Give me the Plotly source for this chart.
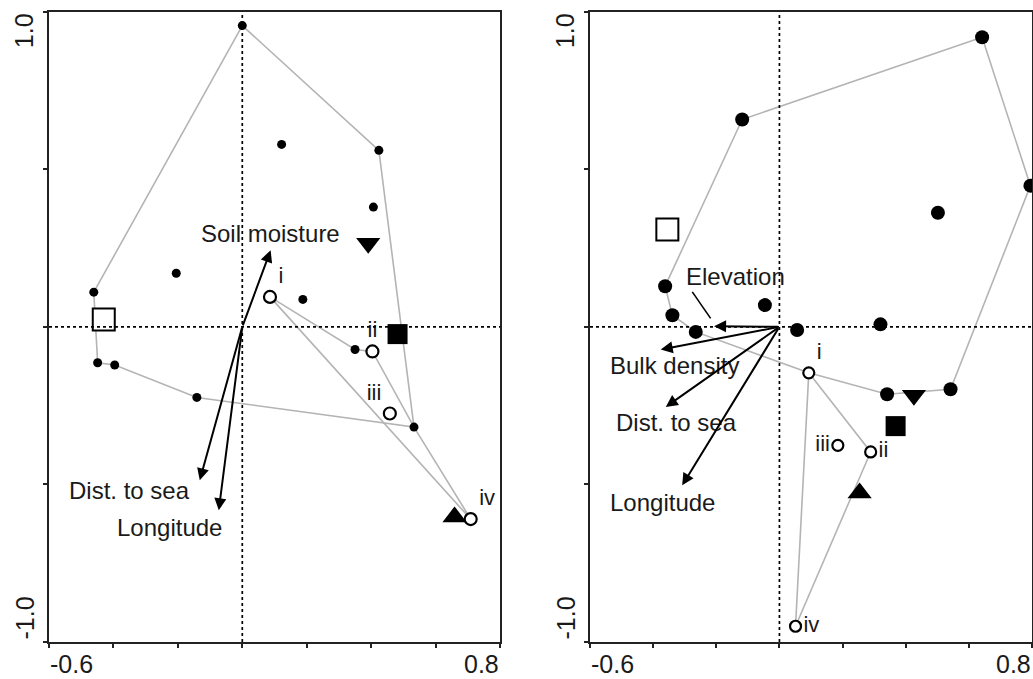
import plotly.graph_objects as go

FONT = "Arial, Liberation Sans, sans-serif"
TXT = "#1a1a1a"
GREY = "#b4b4b4"

# ---------------- Left panel data ----------------
L_site_x = [0.0, 0.122, 0.424, 0.407, -0.205, -0.461, 0.188, -0.449, -0.396, -0.141, 0.350, 0.533]
L_site_y = [0.956, 0.579, 0.560, 0.380, 0.170, 0.110, 0.087, -0.114, -0.121, -0.224, -0.072, -0.318]
L_hull_x = [0.0, 0.424, 0.533, -0.141, -0.396, -0.449, -0.461, 0.0]
L_hull_y = [0.956, 0.560, -0.318, -0.224, -0.121, -0.114, 0.110, 0.956]
L_grp_x = [0.086, 0.350, 0.404, 0.533, 0.709, 0.086]
L_grp_y = [0.095, -0.072, -0.078, -0.318, -0.610, 0.095]
L_open_labels = ["i", "ii", "iii", "iv"]
L_open_x = [0.086, 0.404, 0.458, 0.709]
L_open_y = [0.095, -0.078, -0.275, -0.610]
L_open_pos = ["top right", "top center", "top left", "top right"]
L_osq = ([-0.430], [0.023])
L_fsq = ([0.482], [-0.023])
L_tdown = ([0.391], [0.265])
L_tup = ([0.659], [-0.603])
L_vars = ["Soil moisture", "Dist. to sea", "Longitude"]
L_arrow_x = [0.088, -0.132, -0.073]
L_arrow_y = [0.243, -0.487, -0.582]
L_lab_x = [0.089, -0.350, -0.226]
L_lab_y = [0.297, -0.519, -0.636]

# ---------------- Right panel data ----------------
R_site_x = [0.642, -0.118, 0.795, 0.502, -0.362, -0.339, -0.046, -0.265, 0.056, 0.320, 0.341, 0.542]
R_site_y = [0.919, 0.658, 0.448, 0.362, 0.129, 0.037, 0.069, -0.016, -0.010, 0.008, -0.214, -0.198]
R_hull_x = [-0.118, 0.642, 0.795, 0.542, 0.341, 0.093, -0.265, -0.339, -0.362, -0.118]
R_hull_y = [0.658, 0.919, 0.448, -0.198, -0.214, -0.146, -0.016, 0.037, 0.129, 0.658]
R_grp_x = [0.093, 0.289, 0.051, 0.093]
R_grp_y = [-0.146, -0.397, -0.950, -0.146]
R_open_labels = ["i", "ii", "iii", "iv"]
R_open_x = [0.093, 0.289, 0.185, 0.051]
R_open_y = [-0.146, -0.397, -0.376, -0.950]
R_open_pos = ["top right", "middle right", "middle left", "middle right"]
R_osq = ([-0.355], [0.309])
R_fsq = ([0.368], [-0.315])
R_tdown = ([0.426], [-0.217])
R_tup = ([0.254], [-0.527])
R_vars = ["Elevation", "Bulk density", "Dist. to sea", "Longitude"]
R_arrow_x = [-0.207, -0.376, -0.360, -0.308]
R_arrow_y = [0.002, -0.072, -0.254, -0.503]
R_lab_x = [-0.139, -0.331, -0.326, -0.371]
R_lab_y = [0.159, -0.122, -0.302, -0.556]
R_leader_x = [-0.276, -0.218]
R_leader_y = [0.111, 0.027]

x_ticks = [-0.6, -0.4, -0.2, 0.0, 0.2, 0.4, 0.6, 0.8]
y_ticks = [-1.0, -0.5, 0.0, 0.5, 1.0]
x_end_labels = ["-0.6", "0.8"]
y_end_labels = ["-1.0", "1.0"]

fig = go.Figure()


def add_panel(xa, ya, site_x, site_y, dot, hull_x, hull_y, grp_x, grp_y,
              ox, oy, olab, opos, osize, osq, fsq, tdown, tup, bigsize):
    fig.add_trace(go.Scatter(x=hull_x, y=hull_y, mode="lines", xaxis=xa, yaxis=ya,
                             line=dict(color=GREY, width=1.6), hoverinfo="skip"))
    fig.add_trace(go.Scatter(x=grp_x, y=grp_y, mode="lines", xaxis=xa, yaxis=ya,
                             line=dict(color=GREY, width=1.6), hoverinfo="skip"))
    fig.add_trace(go.Scatter(x=site_x, y=site_y, mode="markers", xaxis=xa, yaxis=ya,
                             marker=dict(size=dot, color="black")))
    fig.add_trace(go.Scatter(x=ox, y=oy, mode="markers+text", xaxis=xa, yaxis=ya,
                             text=olab, textposition=opos,
                             textfont=dict(family=FONT, size=22, color=TXT),
                             marker=dict(size=osize, color="white",
                                         line=dict(color="black", width=2.2))))
    fig.add_trace(go.Scatter(x=osq[0], y=osq[1], mode="markers", xaxis=xa, yaxis=ya,
                             marker=dict(symbol="square", size=bigsize, color="white",
                                         line=dict(color="black", width=2))))
    fig.add_trace(go.Scatter(x=fsq[0], y=fsq[1], mode="markers", xaxis=xa, yaxis=ya,
                             marker=dict(symbol="square", size=bigsize - 2, color="black")))
    fig.add_trace(go.Scatter(x=tdown[0], y=tdown[1], mode="markers", xaxis=xa, yaxis=ya,
                             marker=dict(symbol="triangle-down", size=bigsize - 1, color="black")))
    fig.add_trace(go.Scatter(x=tup[0], y=tup[1], mode="markers", xaxis=xa, yaxis=ya,
                             marker=dict(symbol="triangle-up", size=bigsize - 1, color="black")))


add_panel("x", "y", L_site_x, L_site_y, 9, L_hull_x, L_hull_y, L_grp_x, L_grp_y,
          L_open_x, L_open_y, L_open_labels, L_open_pos, 12, L_osq, L_fsq, L_tdown, L_tup, 22)
add_panel("x2", "y2", R_site_x, R_site_y, 14, R_hull_x, R_hull_y, R_grp_x, R_grp_y,
          R_open_x, R_open_y, R_open_labels, R_open_pos, 11, R_osq, R_fsq, R_tdown, R_tup, 22)

# leader line for Elevation
fig.add_trace(go.Scatter(x=R_leader_x, y=R_leader_y, mode="lines", xaxis="x2", yaxis="y2",
                         line=dict(color="black", width=1.6), hoverinfo="skip"))

annotations = []


def arrows(xr, yr, ax_, ay_, names, lx, ly):
    for hx, hy, n, tx, ty in zip(ax_, ay_, names, lx, ly):
        annotations.append(dict(x=hx, y=hy, ax=0, ay=0, xref=xr, yref=yr, axref=xr, ayref=yr,
                                showarrow=True, arrowhead=2, arrowsize=1.2, arrowwidth=2,
                                arrowcolor="black", text=""))
        annotations.append(dict(x=tx, y=ty, xref=xr, yref=yr, text=n, showarrow=False,
                                font=dict(family=FONT, size=24, color=TXT)))


arrows("x", "y", L_arrow_x, L_arrow_y, L_vars, L_lab_x, L_lab_y)
arrows("x2", "y2", R_arrow_x, R_arrow_y, R_vars, R_lab_x, R_lab_y)

# end tick labels
for xr, yr in (("x", "y"), ("x2", "y2")):
    for v, t, anc in zip([x_ticks[0], x_ticks[-1]], x_end_labels, ["left", "right"]):
        annotations.append(dict(x=v, y=0, xref=xr, yref="paper", text=t, showarrow=False,
                                xanchor=anc, yanchor="bottom", yshift=0, borderpad=0,
                                font=dict(family=FONT, size=25, color=TXT)))
    for v, t, anc in zip([y_ticks[0], y_ticks[-1]], y_end_labels, ["bottom", "top"]):
        annotations.append(dict(x=0, y=v, xref=xr + " domain", yref=yr, text=t,
                                showarrow=False, textangle=-90,
                                xanchor="right", yanchor=anc, xshift=-9,
                                font=dict(family=FONT, size=25, color=TXT)))

shapes = []
for xr, yr in (("x", "y"), ("x2", "y2")):
    shapes.append(dict(type="line", xref=xr, yref=yr + " domain", x0=0, x1=0, y0=0, y1=1,
                       line=dict(color="black", width=1.7, dash="dot")))
    shapes.append(dict(type="line", xref=xr + " domain", yref=yr, x0=0, x1=1, y0=0, y1=0,
                       line=dict(color="black", width=1.7, dash="dot")))

W, H = 1033, 679
axis_common = dict(showgrid=False, zeroline=False, showline=True, linecolor="#222",
                   linewidth=2, mirror=True, ticks="outside", ticklen=4, tickwidth=2,
                   tickcolor="#222", showticklabels=False)

fig.update_layout(
    width=W, height=H, margin=dict(l=0, r=0, t=0, b=0),
    paper_bgcolor="white", plot_bgcolor="white", showlegend=False,
    xaxis=dict(domain=[49 / W, 500 / W], range=[-0.6, 0.8], tickvals=x_ticks, **axis_common),
    yaxis=dict(domain=[(H - 642) / H, (H - 11.7) / H], range=[-1, 1], tickvals=y_ticks, **axis_common),
    xaxis2=dict(domain=[590 / W, 1032 / W], range=[-0.6, 0.8], tickvals=x_ticks, anchor="y2", **axis_common),
    yaxis2=dict(domain=[(H - 642) / H, (H - 11.7) / H], range=[-1, 1], tickvals=y_ticks, anchor="x2", **axis_common),
    annotations=annotations, shapes=shapes,
)

fig.write_html("out.html", config={"displayModeBar": False},
               post_script="document.body.style.margin='0';document.body.style.overflow='hidden';")
